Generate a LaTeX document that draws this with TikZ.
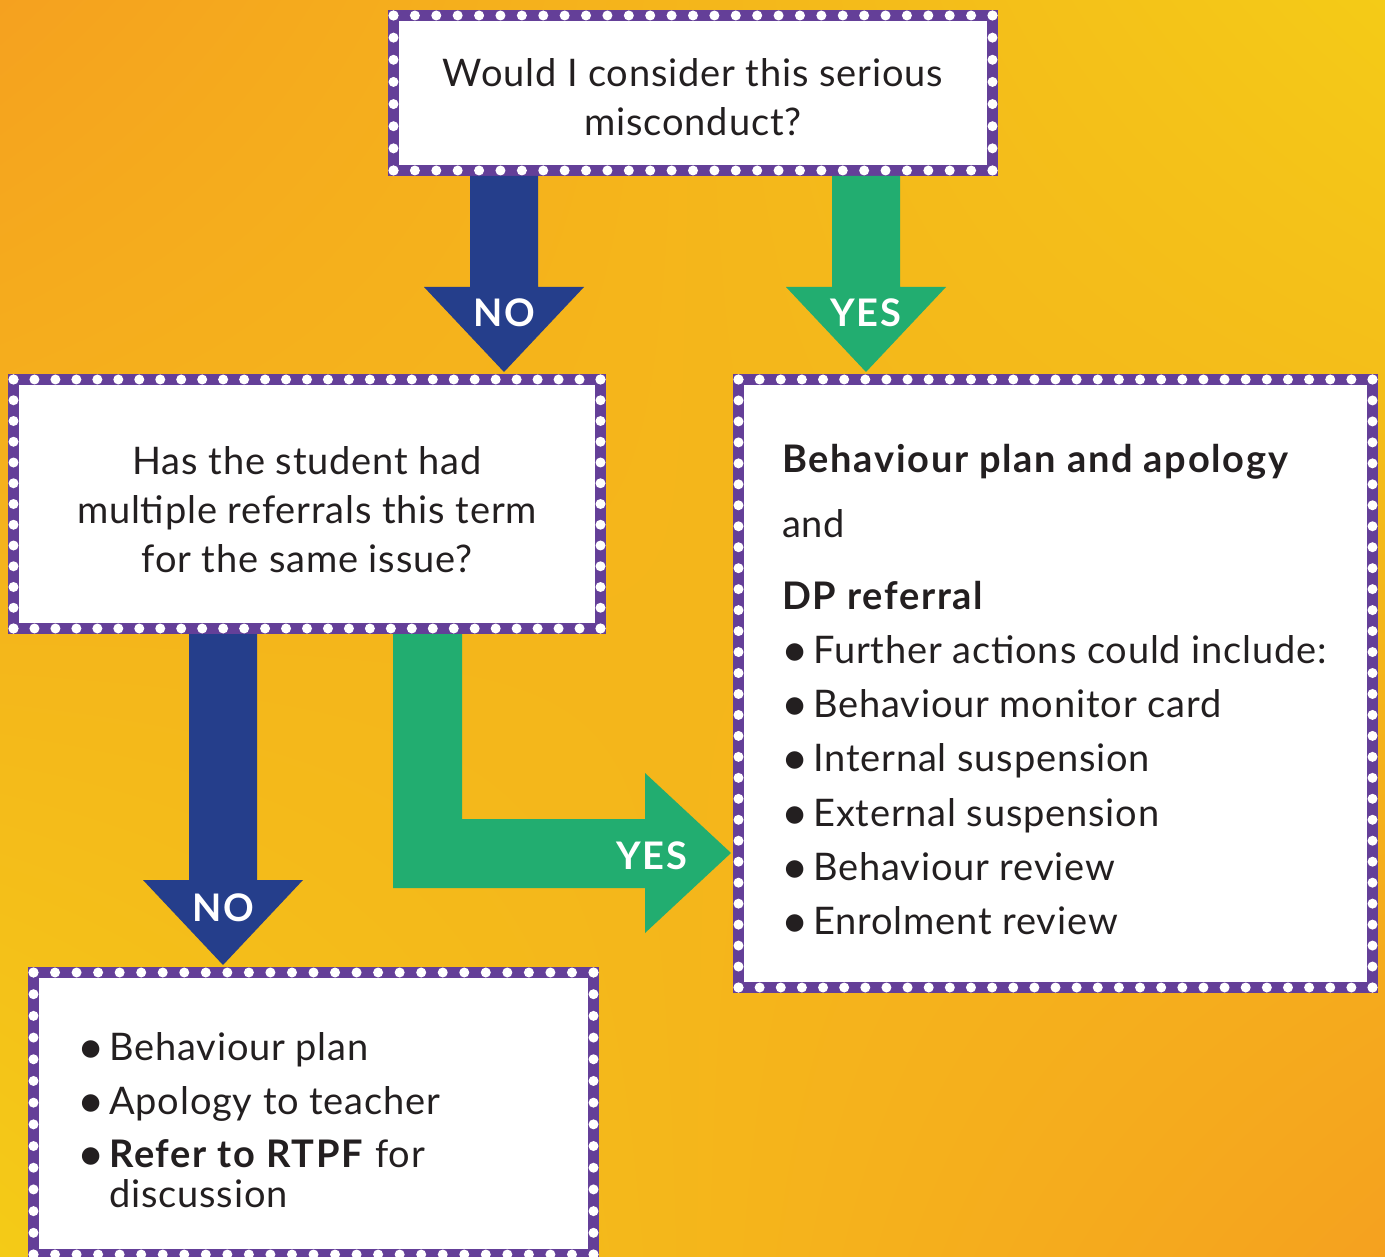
\documentclass[tikz,border=0pt]{standalone}
\usepackage{fontspec}
\setmainfont{Lato}[LetterSpace=2.2, BoldFeatures={LetterSpace=4.5}]
\usetikzlibrary{calc,shadings}
\definecolor{bgorange}{HTML}{F5A11F}
\definecolor{bgyellow}{HTML}{F4CB17}
\definecolor{purp}{HTML}{643F98}
\definecolor{noblue}{HTML}{253E8B}
\definecolor{yesgreen}{HTML}{22AD70}
\definecolor{ink}{HTML}{231F20}
\tikzset{
  dotbox/.style={draw=purp, line width=11pt, fill=white, inner sep=0pt, outer sep=0pt, rectangle},
  dotfill/.style={fill=white},
  txt/.style={font=\fontsize{38}{46}\selectfont, text=ink, inner sep=0pt},
  bul/.style={font=\fontsize{47}{52}\selectfont, text=ink, inner sep=0pt},
  lab/.style={font=\fontsize{38}{46}\selectfont\bfseries, text=white, inner sep=0pt, anchor=base},
}
\newcommand\bulletmark{\raisebox{-3.2pt}{•}}
\newcommand\dotedge[3]{%
  \foreach \i in {0,...,#3}{\fill[dotfill] ($(#1)!\i/#3!(#2)$) circle[radius=5pt];}%
}
\newcommand\dotframe[3]{%
  \pgfmathtruncatemacro\dnx{round(#2/21.3)}%
  \pgfmathtruncatemacro\dny{round(#3/21.3)}%
  \dotedge{#1.north west}{#1.north east}{\dnx}%
  \dotedge{#1.north east}{#1.south east}{\dny}%
  \dotedge{#1.south east}{#1.south west}{\dnx}%
  \dotedge{#1.south west}{#1.north west}{\dny}%
}
\newcommand\blockdown[4]{%
  \fill[#1] let \p1=(#2), \p2=(#3) in
    (#4pt-34pt,\y1-5.5pt) -- (#4pt+34pt,\y1-5.5pt) -- (#4pt+34pt,\y2+92.5pt) -- (#4pt+80pt,\y2+92.5pt)
    -- (#4pt,\y2+7.5pt) -- (#4pt-80pt,\y2+92.5pt) -- (#4pt-34pt,\y2+92.5pt) -- cycle;%
}
\begin{document}
\begin{tikzpicture}[x=1pt,y=1pt]
\useasboundingbox (0,0) rectangle (1385,-1257);
\shade[upper left=bgorange, upper right=bgyellow, lower left=bgyellow, lower right=bgorange] (0,0) rectangle (1385,-1257);

% boxes
\node[dotbox, minimum width=599pt, minimum height=155pt] (q1) at (693,-93) {};
\node[dotbox, minimum width=587pt, minimum height=249pt] (q2) at (307,-504) {};
\node[dotbox, minimum width=634pt, minimum height=608pt] (yesbox) at (1055.5,-683.5) {};
\node[dotbox, minimum width=560pt, minimum height=282pt] (nobox) at (313.5,-1113.5) {};
\dotframe{q1}{599}{155}
\dotframe{q2}{587}{249}
\dotframe{yesbox}{634}{608}
\dotframe{nobox}{560}{282}

% arrows
\blockdown{noblue}{q1.south}{q2.north}{504}
\blockdown{yesgreen}{q1.south}{yesbox.north}{866}
\blockdown{noblue}{q2.south}{nobox.north}{223}
\fill[yesgreen] let \p1=(q2.south), \p2=(yesbox.west) in
  (393pt,\y1-5.5pt) -- (462pt,\y1-5.5pt) -- (462pt,-819pt) -- (645pt,-819pt) -- (645pt,-773pt)
  -- (\x2-7.5pt,-853pt) -- (645pt,-933pt) -- (645pt,-888pt) -- (393pt,-888pt) -- cycle;

% arrow labels
\node[lab] (no1) at (504,-327) {NO};
\node[lab] (yes1) at (866,-327) {YES};
\node[lab] (no2) at (223,-921) {NO};
\node[lab] (yes2) at (652,-869) {YES};

% top question
\node[txt, anchor=base] (q1a) at (693,-87) {Would I consider this serious};
\node[txt, anchor=base] (q1b) at (693,-136) {misconduct?};

% second question
\node[txt, anchor=base] (q2a) at (307,-474) {Has the student had};
\node[txt, anchor=base] (q2b) at (307,-523) {multiple referrals this term};
\node[txt, anchor=base] (q2c) at (307,-572) {for the same issue?};

% yes box
\node[txt, anchor=base west] (y1) at (782,-472) {\textbf{Behaviour plan and apology}};
\node[txt, anchor=base west] (y2) at (782,-537) {and};
\node[txt, anchor=base west] (y3) at (782,-609) {\textbf{DP referral}};
\foreach \yy/\tt [count=\k] in {663/Further actions could include:, 717/Behaviour monitor card, 771/Internal suspension, 826/External suspension, 880/Behaviour review, 934/Enrolment review}{
  \node[bul, anchor=base west] (yb\k) at (781,-\yy) {\bulletmark};
  \node[txt, anchor=base west] (yt\k) at (813,-\yy) {\tt};
}

% no box
\node[bul, anchor=base west] (nb1) at (77,-1060) {\bulletmark};
\node[txt, anchor=base west] (nt1) at (109,-1060) {Behaviour plan};
\node[bul, anchor=base west] (nb2) at (77,-1114) {\bulletmark};
\node[txt, anchor=base west] (nt2) at (109,-1114) {Apology to teacher};
\node[bul, anchor=base west] (nb3) at (77,-1167) {\bulletmark};
\node[txt, anchor=base west] (nt3) at (109,-1167) {\textbf{Refer to RTPF} for};
\node[txt, anchor=base west] (nt4) at (109,-1207) {discussion};
\end{tikzpicture}
\end{document}
